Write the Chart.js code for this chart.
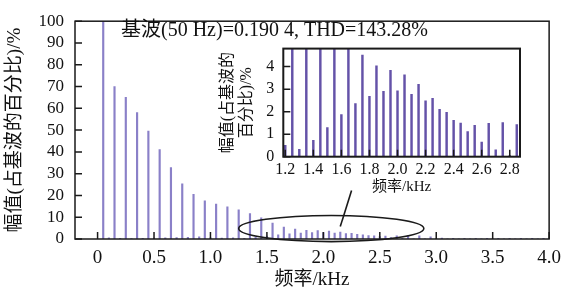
<!DOCTYPE html>
<html>
<head>
<meta charset="utf-8">
<script src="https://cdn.jsdelivr.net/npm/chart.js@4.4.0/dist/chart.umd.min.js"></script>
<style>
    html, body { margin: 0; padding: 0; background: #fff; }
    #wrap { position: relative; width: 569px; height: 292px; }
    #main { position: absolute; left: 0; top: 0; }
    #inset { position: absolute; left: 200px; top: 30px; }
</style>
</head>
<body>
<div id="wrap">
    <canvas id="main" width="569" height="292"></canvas>
    <canvas id="inset" width="330" height="170"></canvas>
</div>
<script>
// Harmonic spectrum: frequency (Hz) and amplitude (% of fundamental)
const freqHz = [
    50, 100, 150, 200, 250, 300, 350, 400, 450, 500,
    550, 600, 650, 700, 750, 800, 850, 900, 950, 1000,
    1050, 1100, 1150, 1200, 1250, 1300, 1350, 1400, 1450, 1500,
    1550, 1600, 1650, 1700, 1750, 1800, 1850, 1900, 1950, 2000,
    2050, 2100, 2150, 2200, 2250, 2300, 2350, 2400, 2450, 2500,
    2550, 2600, 2650, 2700, 2750, 2800, 2850, 2900, 2950, 3000,
    3050, 3100, 3150, 3200, 3250, 3300, 3350, 3400, 3450, 3500,
    3550, 3600, 3650, 3700, 3750, 3800, 3850, 3900, 3950, 4000
];
const amplitude = [
    100, 0.5, 70, 0.3, 65, 0.2, 58, 0.3, 49.5, 0.4,
    41, 0.5, 32.8, 0.6, 25.3, 0.8, 20.5, 1.0, 17.5, 0.5,
    16, 0.4, 14.8, 0.5, 13.4, 0.33, 11.7, 0.73, 9.7, 1.29,
    7.3, 1.87, 5.5, 2.36, 4.51, 2.68, 4.03, 2.9, 3.84, 2.93,
    3.64, 2.77, 3.21, 2.48, 2.59, 2.1, 1.97, 1.61, 1.49, 1.11,
    1.39, 0.65, 1.48, 0.3, 1.52, 0.05, 1.43, 0.1, 1.0, 0.1,
    0.4, 0.1, 0.35, 0.1, 0.3, 0.1, 0.3, 0.1, 0.3, 0.1,
    0.3, 0.1, 0.3, 0.1, 0.3, 0.1, 0.3, 0.1, 0.3, 0.1
];

const mainXTicks = [0, 0.5, 1.0, 1.5, 2.0, 2.5, 3.0, 3.5, 4.0];
const mainYTicks = [0, 10, 20, 30, 40, 50, 60, 70, 80, 90, 100];
const insetXTicks = [1.2, 1.4, 1.6, 1.8, 2.0, 2.2, 2.4, 2.6, 2.8];
const insetYTicks = [0, 1, 2, 3, 4];

const FONT = "'Times New Roman', 'Liberation Serif', 'DejaVu Serif', 'Noto Sans CJK SC', serif";
const points = freqHz.map((f, i) => ({ x: f / 1000, y: amplitude[i] }));

// inward tick marks + frame box
const innerTicks = {
    id: 'innerTicks',
    beforeDraw(chart) {
        const { ctx, chartArea: a } = chart;
        ctx.save();
        ctx.fillStyle = '#fff';
        ctx.fillRect(a.left, a.top, a.right - a.left, a.bottom - a.top);
        ctx.restore();
    },
    afterDatasetsDraw(chart, args, opts) {
        const { ctx, chartArea: a, scales: { x, y } } = chart;
        ctx.save();
        ctx.strokeStyle = '#1a1a1a';
        ctx.lineWidth = opts.width;
        ctx.beginPath();
        x.ticks.forEach(t => {
            const px = x.getPixelForValue(t.value);
            ctx.moveTo(px, a.bottom);
            ctx.lineTo(px, a.bottom - opts.len);
        });
        y.ticks.forEach(t => {
            const py = y.getPixelForValue(t.value);
            ctx.moveTo(a.left, py);
            ctx.lineTo(a.left + opts.len, py);
        });
        ctx.stroke();
        ctx.lineWidth = opts.frame;
        ctx.strokeRect(a.left, a.top, a.right - a.left, a.bottom - a.top);
        ctx.restore();
    }
};

// caption text, ellipse around 1.3-2.9 kHz and leader line to the inset
const annotations = {
    id: 'annotations',
    afterDraw(chart) {
        const { ctx, chartArea: a, scales: { x, y } } = chart;
        ctx.save();
        ctx.fillStyle = '#111';
        ctx.font = '20px ' + FONT;
        ctx.textBaseline = 'middle';
        ctx.fillText('基波(50 Hz)=0.190 4, THD=143.28%', a.left + 46, a.top + 10);

        const cx = x.getPixelForValue(2.07), cy = y.getPixelForValue(4.8);
        const rx = x.getPixelForValue(2.07 + 0.82) - cx;
        const ry = cy - y.getPixelForValue(4.8 + 6.0);
        ctx.strokeStyle = '#1a1a1a';
        ctx.lineWidth = 1.6;
        ctx.beginPath();
        ctx.ellipse(cx, cy, rx, ry, 0, 0, Math.PI * 2);
        ctx.stroke();
        ctx.beginPath();
        ctx.moveTo(x.getPixelForValue(2.25), y.getPixelForValue(22.3));
        ctx.lineTo(x.getPixelForValue(2.15), y.getPixelForValue(5.7));
        ctx.stroke();
        ctx.restore();
    }
};

new Chart(document.getElementById('main'), {
    type: 'bar',
    data: {
        datasets: [{
            data: points,
            backgroundColor: '#8a80c8',
            barThickness: 1.5,
            grouped: false
        }]
    },
    options: {
        responsive: false,
        animation: false,
        layout: { padding: { left: 0, top: 10, right: 9, bottom: 0 } },
        plugins: {
            legend: { display: false },
            tooltip: { enabled: false },
            innerTicks: { len: 7, width: 1.5, frame: 1.5 }
        },
        scales: {
            x: {
                type: 'linear', min: -0.2, max: 4.0, offset: false,
                afterBuildTicks: s => { s.ticks = mainXTicks.map(v => ({ value: v })); },
                afterFit: s => { s.height = 53; },
                ticks: {
                    callback: v => v === 0 ? '0' : v.toFixed(1),
                    color: '#111', font: { family: FONT, size: 19 },
                    padding: 8, maxRotation: 0, autoSkip: false
                },
                grid: { display: false, drawTicks: false },
                border: { display: false },
                title: {
                    display: true, text: '频率/kHz', color: '#111',
                    font: { family: FONT, size: 19 }, padding: { top: 0, bottom: 1 }
                }
            },
            y: {
                min: 0, max: 100,
                afterBuildTicks: s => { s.ticks = mainYTicks.map(v => ({ value: v })); },
                afterFit: s => { s.width = 75; },
                ticks: { color: '#111', font: { family: FONT, size: 17 }, padding: 11, autoSkip: false },
                grid: { display: false, drawTicks: false },
                border: { display: false },
                title: {
                    display: true, text: '幅值(占基波的百分比)/%', color: '#111',
                    font: { family: FONT, size: 19 }, padding: { top: 4, bottom: 0 }
                }
            }
        }
    },
    plugins: [innerTicks, annotations]
});

new Chart(document.getElementById('inset'), {
    type: 'bar',
    data: {
        datasets: [{
            data: points,
            backgroundColor: '#6452a8',
            barThickness: 1.8,
            grouped: false
        }]
    },
    options: {
        responsive: false,
        animation: false,
        layout: { padding: { left: 0, top: 6, right: 10, bottom: 0 } },
        plugins: {
            legend: { display: false },
            tooltip: { enabled: false },
            innerTicks: { len: 7, width: 1.5, frame: 2 }
        },
        scales: {
            x: {
                type: 'linear', min: 1.186, max: 2.873, offset: false,
                afterBuildTicks: s => { s.ticks = insetXTicks.map(v => ({ value: v })); },
                afterFit: s => { s.height = 43.3; },
                ticks: {
                    callback: v => v.toFixed(1),
                    color: '#111', font: { family: FONT, size: 16 },
                    padding: 3, maxRotation: 0, autoSkip: false
                },
                grid: { display: false, drawTicks: false },
                border: { display: false },
                title: {
                    display: true, text: '频率/kHz', color: '#111',
                    font: { family: FONT, size: 15 }, padding: { top: 0, bottom: 4 }
                }
            },
            y: {
                min: 0, max: 4.8,
                afterBuildTicks: s => { s.ticks = insetYTicks.map(v => ({ value: v })); },
                afterFit: s => { s.width = 83.3; },
                ticks: { color: '#111', font: { family: FONT, size: 16 }, padding: 9, autoSkip: false },
                grid: { display: false, drawTicks: false },
                border: { display: false },
                title: {
                    display: true, text: ['幅值(占基波的', '百分比)/%'], color: '#111',
                    font: { family: FONT, size: 16 }, padding: { top: 18, bottom: 0 }
                }
            }
        }
    },
    plugins: [innerTicks]
});
</script>
</body>
</html>
